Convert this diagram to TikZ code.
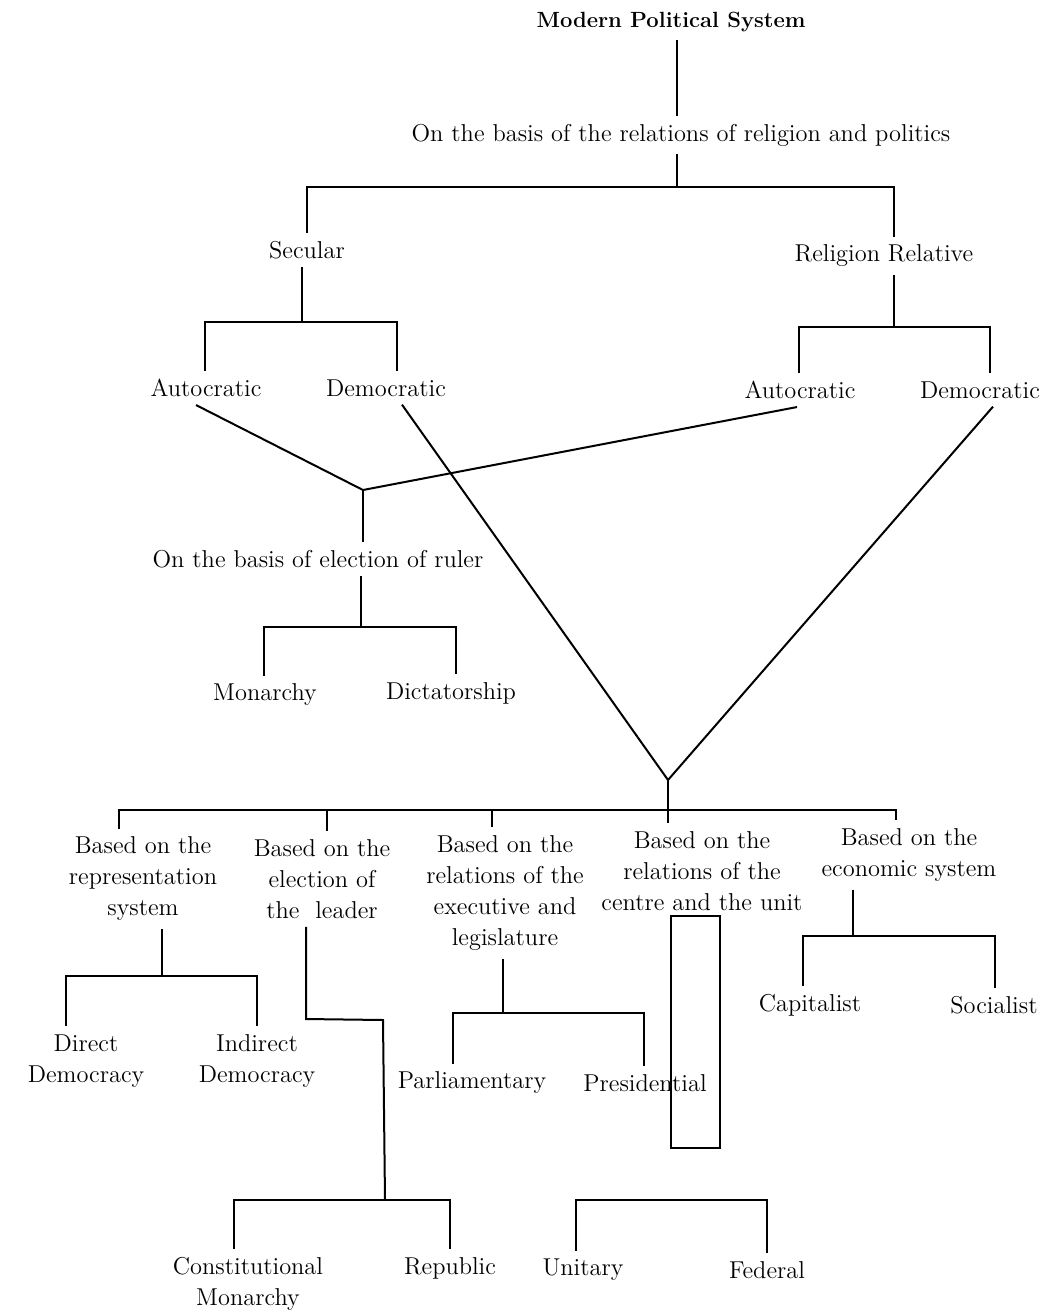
\documentclass[tikz,border=0pt]{standalone}
\begin{document}
\begin{tikzpicture}[x=0.5pt,y=-0.5pt,line width=1pt]
\tikzset{every node/.style={align=center, inner sep=3.6pt, font=\fontsize{12.2}{15.5}\selectfont}}
\tikzstyle{head}=[font=\fontsize{11}{15.5}\selectfont\bfseries]
\tikzstyle{unitbox}=[draw, line width=1pt, inner sep=0pt, minimum width=24.5pt, minimum height=116pt]
\useasboundingbox (0,0) rectangle (1054,1313);
% top levels
\node[head] (mps) at (671,22) {Modern Political System};
\node (relig) at (681,135) {On the basis of the relations of religion and politics};
\node (secular) at (307,250) {Secular};
\node (relrel) at (884,256) {Religion Relative};
\node (autoS) at (206,388) {Autocratic};
\node (demoS) at (386,388) {Democratic};
\node (autoR) at (800,390) {Autocratic};
\node (demoR) at (980,390) {Democratic};
\node (elect) at (318,559) {On the basis of election of ruler};
\node (monarchy) at (265,695) {Monarchy};
\node (dict) at (451,693) {Dictatorship};
% bases
\node (c1) at (143,879) {Based on the\\representation\\system};
\node (c2) at (322,879) {Based on the\\election of\\the\ \ leader};
\node (c3) at (505,893) {Based on the\\relations of the\\executive and\\legislature};
\node (c4) at (702,871) {Based on the\\relations of the\\centre and the unit};
\node (c5) at (909,855) {Based on the\\economic system};
% leaves
\node (direct) at (86,1061) {Direct\\Democracy};
\node (indirect) at (257,1061) {Indirect\\Democracy};
\node (parl) at (472,1083) {Parliamentary};
\node (pres) at (645,1083) {Presidential};
\node (capital) at (810,1005) {Capitalist};
\node (social) at (994,1005) {Socialist};
\node (const) at (248,1284) {Constitutional\\Monarchy};
\node (republic) at (450,1268) {Republic};
\node (unitary) at (583,1270) {Unitary};
\node (federal) at (767,1270) {Federal};
\node[unitbox] (cubox) at (695.5,1032) {};
% junctions
\coordinate (rj) at (677,187);
\coordinate (rl) at (307,187);
\coordinate (rr) at (894,187);
\coordinate (sj) at (302,322);
\coordinate (sl) at (205,322);
\coordinate (sr) at (397,322);
\coordinate (qj) at (894,327);
\coordinate (ql) at (799,327);
\coordinate (qr) at (990,327);
\coordinate (aj) at (363,490);
\coordinate (ej) at (361,627);
\coordinate (el) at (264,627);
\coordinate (er) at (456,627);
\coordinate (dj) at (668,780);
\coordinate (b1) at (119,810);
\coordinate (b2) at (327,810);
\coordinate (b3) at (492,810);
\coordinate (b5) at (896,810);
\coordinate (pj) at (162,976);
\coordinate (pl) at (66,976);
\coordinate (pr) at (257,976);
\coordinate (lk1) at (306,1019);
\coordinate (lk2) at (383,1020);
\coordinate (lj) at (385,1200);
\coordinate (ll) at (234,1200);
\coordinate (lr) at (450,1200);
\coordinate (xj) at (503,1013);
\coordinate (xl) at (453,1013);
\coordinate (xr) at (644,1013);
\coordinate (ul) at (576,1200);
\coordinate (ur) at (767,1200);
\coordinate (kj) at (853,936);
\coordinate (kl) at (803,936);
\coordinate (kr) at (995,936);
% edges
\draw (mps.south -| rj) -- (relig.north -| rj);
\draw (relig.south -| rj) -- (rj);
\draw (secular.north -| rl) -- (rl) -- (rr) -- (relrel.north -| rr);
\draw (secular.south -| sj) -- (sj);
\draw (autoS.north -| sl) -- (sl) -- (sr) -- (demoS.north -| sr);
\draw (relrel.south -| qj) -- (qj);
\draw (autoR.north -| ql) -- (ql) -- (qr) -- (demoR.north -| qr);
\draw ([xshift=-5pt]autoS.south) -- (aj) -- ([xshift=-1.5pt]autoR.south);
\draw (aj) -- (elect.north -| aj);
\draw (elect.south -| ej) -- (ej);
\draw (monarchy.north -| el) -- (el) -- (er) -- (dict.north -| er);
\draw ([xshift=8pt]demoS.south) -- (dj) -- ([xshift=6.5pt]demoR.south);
\draw (dj) -- (c4.north -| dj);
\draw (c1.north -| b1) -- (b1) -- (b5) -- (c5.north -| b5);
\draw (c2.north -| b2) -- (b2);
\draw (c3.north -| b3) -- (b3);
\draw (c1.south -| pj) -- (pj);
\draw (direct.north -| pl) -- (pl) -- (pr) -- (indirect.north -| pr);
\draw (c2.south -| lk1) -- (lk1) -- (lk2) -- (lj);
\draw (const.north -| ll) -- (ll) -- (lr) -- (republic.north -| lr);
\draw (c3.south -| xj) -- (xj);
\draw (parl.north -| xl) -- (xl) -- (xr) -- (pres.north -| xr);
\draw (unitary.north -| ul) -- (ul) -- (ur) -- (federal.north -| ur);
\draw (c5.south -| kj) -- (kj);
\draw (capital.north -| kl) -- (kl) -- (kr) -- (social.north -| kr);
\end{tikzpicture}
\end{document}
